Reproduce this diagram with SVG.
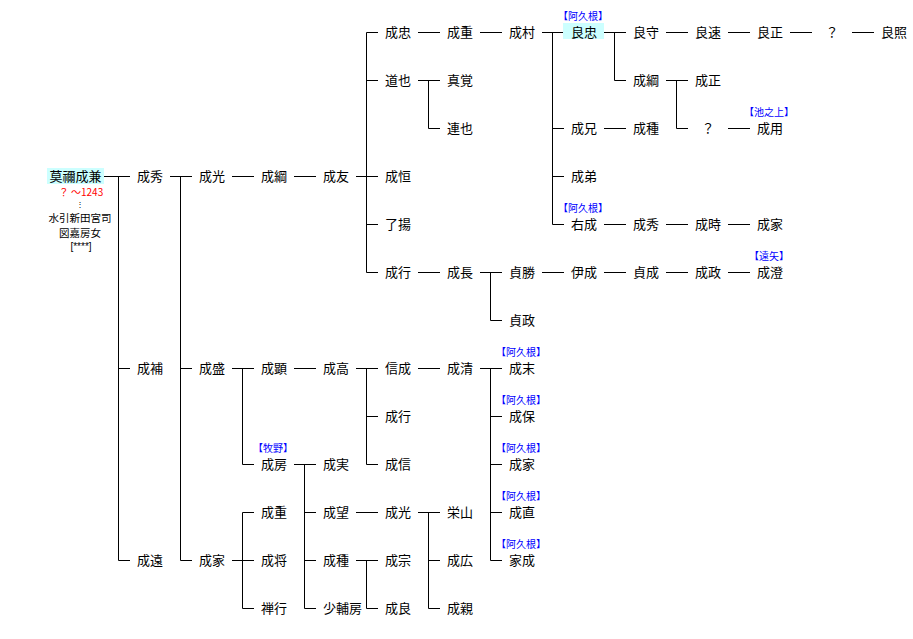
<svg xmlns="http://www.w3.org/2000/svg" width="913" height="639" viewBox="0 0 913 639">
<style>
text{font-family:"Noto Sans CJK JP","Noto Sans CJK SC",sans-serif;}
.t{font-size:13px;fill:#000;text-anchor:middle}
.a{font-size:10px;fill:#0000ff;text-anchor:middle}
.s{font-size:10.5px;fill:#000;text-anchor:middle}
.r{font-size:10px;fill:#ff0000;text-anchor:middle}
.hl{fill:#ccffff}
.ln{stroke:#000;stroke-width:1;fill:none}
</style>
<rect width="913" height="639" fill="#fff"/>
<g id="connectors" class="ln">
<path d="M104 176.5H130M118.5 176.5V560.5M118.5 368.5H130M118.5 560.5H130"/>
<path d="M170 176.5H192M180.5 176.5V560.5M180.5 368.5H192M180.5 560.5H192"/>
<path d="M232 176.5H254M294 176.5H316"/>
<path d="M356 176.5H378M366.5 32.5V272.5M366.5 32.5H378M366.5 80.5H378M366.5 224.5H378M366.5 272.5H378"/>
<path d="M418 32.5H440M480 32.5H502"/>
<path d="M542 32.5H564M552.5 32.5V224.5M552.5 128.5H564M552.5 176.5H564M552.5 224.5H564"/>
<path d="M604 32.5H626M614.5 32.5V80.5M614.5 80.5H626"/>
<path d="M666 32.5H688M728 32.5H750M790 32.5H812M852 32.5H874"/>
<path d="M666 80.5H688M676.5 80.5V128.5M676.5 128.5H688M728 128.5H750"/>
<path d="M604 128.5H626"/>
<path d="M604 224.5H626M666 224.5H688M728 224.5H750"/>
<path d="M418 80.5H440M428.5 80.5V128.5M428.5 128.5H440"/>
<path d="M418 272.5H440M480 272.5H502M490.5 272.5V320.5M490.5 320.5H502"/>
<path d="M542 272.5H564M604 272.5H626M666 272.5H688M728 272.5H750"/>
<path d="M232 368.5H254M242.5 368.5V464.5M242.5 464.5H254M294 368.5H316"/>
<path d="M356 368.5H378M366.5 368.5V464.5M366.5 416.5H378M366.5 464.5H378M418 368.5H440"/>
<path d="M480 368.5H502M490.5 368.5V560.5M490.5 416.5H502M490.5 464.5H502M490.5 512.5H502M490.5 560.5H502"/>
<path d="M294 464.5H316M304.5 464.5V608.5M304.5 512.5H316M304.5 560.5H316M304.5 608.5H316"/>
<path d="M356 512.5H378M418 512.5H440M428.5 512.5V608.5M428.5 560.5H440M428.5 608.5H440"/>
<path d="M356 560.5H378M366.5 560.5V608.5M366.5 608.5H378"/>
<path d="M232 560.5H254M242.5 512.5V608.5M242.5 512.5H254M242.5 608.5H254"/>
</g>
<g id="n-root">
<rect class="hl" x="47" y="168" width="57" height="16"/>
<text class="t" x="75.5" y="181">莫禰成兼</text>
<text class="r" x="81" y="195.5">？ ～1243</text>
<text class="s" x="80" y="207" style="font-size:8px">⋮</text>
<text class="s" x="80" y="222">水引新田宮司</text>
<text class="s" x="80" y="236.5">図嘉房女</text>
<text class="s" x="81" y="249.5" style="font-family:'Liberation Sans',sans-serif;font-size:10px">[****]</text>
</g>
<g id="n-c1-seishu"><text class="t" x="150" y="181">成秀</text></g>
<g id="n-c1-seiho"><text class="t" x="150" y="373">成補</text></g>
<g id="n-c1-seien"><text class="t" x="150" y="565">成遠</text></g>
<g id="n-c2-seiko"><text class="t" x="212" y="181">成光</text></g>
<g id="n-c2-seisei"><text class="t" x="212" y="373">成盛</text></g>
<g id="n-c2-seika"><text class="t" x="212" y="565">成家</text></g>
<g id="n-c3-seiko2"><text class="t" x="274" y="181">成綱</text></g>
<g id="n-c3-seiken"><text class="t" x="274" y="373">成顕</text></g>
<g id="n-c3-seibo"><text class="a" x="273" y="452">【牧野】</text><text class="t" x="274" y="469">成房</text></g>
<g id="n-c3-seiju"><text class="t" x="274" y="517">成重</text></g>
<g id="n-c3-seisho"><text class="t" x="274" y="565">成将</text></g>
<g id="n-c3-zengyo"><text class="t" x="274" y="613">禅行</text></g>
<g id="n-c4-seiyu"><text class="t" x="336" y="181">成友</text></g>
<g id="n-c4-seiko3"><text class="t" x="336" y="373">成高</text></g>
<g id="n-c4-seijitsu"><text class="t" x="336" y="469">成実</text></g>
<g id="n-c4-seibo2"><text class="t" x="336" y="517">成望</text></g>
<g id="n-c4-seishu2"><text class="t" x="336" y="565">成種</text></g>
<g id="n-c4-shoho"><text class="t" x="323" y="613" style="text-anchor:start">少輔房</text></g>
<g id="n-c5-seichu"><text class="t" x="398" y="37">成忠</text></g>
<g id="n-c5-michiya"><text class="t" x="398" y="85">道也</text></g>
<g id="n-c5-seiko4"><text class="t" x="398" y="181">成恒</text></g>
<g id="n-c5-ryoyo"><text class="t" x="398" y="229">了揚</text></g>
<g id="n-c5-seigyo"><text class="t" x="398" y="277">成行</text></g>
<g id="n-c5-shinsei"><text class="t" x="398" y="373">信成</text></g>
<g id="n-c5-seigyo2"><text class="t" x="398" y="421">成行</text></g>
<g id="n-c5-seishin"><text class="t" x="398" y="469">成信</text></g>
<g id="n-c5-seiko5"><text class="t" x="398" y="517">成光</text></g>
<g id="n-c5-seiso"><text class="t" x="398" y="565">成宗</text></g>
<g id="n-c5-seiryo"><text class="t" x="398" y="613">成良</text></g>
<g id="n-c6-seiju2"><text class="t" x="460" y="37">成重</text></g>
<g id="n-c6-shinkaku"><text class="t" x="460" y="85">真覚</text></g>
<g id="n-c6-renya"><text class="t" x="460" y="133">連也</text></g>
<g id="n-c6-seicho"><text class="t" x="460" y="277">成長</text></g>
<g id="n-c6-seisei2"><text class="t" x="460" y="373">成清</text></g>
<g id="n-c6-eizan"><text class="t" x="460" y="517">栄山</text></g>
<g id="n-c6-seiko6"><text class="t" x="460" y="565">成広</text></g>
<g id="n-c6-seishin2"><text class="t" x="460" y="613">成親</text></g>
<g id="n-c7-seison"><text class="t" x="522" y="37">成村</text></g>
<g id="n-c7-teisho"><text class="t" x="522" y="277">貞勝</text></g>
<g id="n-c7-teisei"><text class="t" x="522" y="325">貞政</text></g>
<g id="n-c7-seimatsu"><text class="a" x="521" y="356">【阿久根】</text><text class="t" x="522" y="373">成末</text></g>
<g id="n-c7-seiho2"><text class="a" x="521" y="404">【阿久根】</text><text class="t" x="522" y="421">成保</text></g>
<g id="n-c7-seika2"><text class="a" x="521" y="452">【阿久根】</text><text class="t" x="522" y="469">成家</text></g>
<g id="n-c7-seichoku"><text class="a" x="521" y="500">【阿久根】</text><text class="t" x="522" y="517">成直</text></g>
<g id="n-c7-kasei"><text class="a" x="521" y="548">【阿久根】</text><text class="t" x="522" y="565">家成</text></g>
<g id="n-c8-ryochu"><text class="a" x="583" y="20">【阿久根】</text><rect class="hl" x="563" y="23" width="41" height="16"/><text class="t" x="584" y="37">良忠</text></g>
<g id="n-c8-seikei"><text class="t" x="584" y="133">成兄</text></g>
<g id="n-c8-seitei"><text class="t" x="584" y="181">成弟</text></g>
<g id="n-c8-usei"><text class="a" x="583" y="212">【阿久根】</text><text class="t" x="584" y="229">右成</text></g>
<g id="n-c8-isei"><text class="t" x="584" y="277">伊成</text></g>
<g id="n-c9-ryoshu"><text class="t" x="646" y="37">良守</text></g>
<g id="n-c9-seiko7"><text class="t" x="646" y="85">成綱</text></g>
<g id="n-c9-seishu3"><text class="t" x="646" y="133">成種</text></g>
<g id="n-c9-seishu4"><text class="t" x="646" y="229">成秀</text></g>
<g id="n-c9-teisei2"><text class="t" x="646" y="277">貞成</text></g>
<g id="n-c10-ryosoku"><text class="t" x="708" y="37">良速</text></g>
<g id="n-c10-seisei3"><text class="t" x="708" y="85">成正</text></g>
<g id="n-c10-q"><text class="t" x="708" y="133">？</text></g>
<g id="n-c10-seiji"><text class="t" x="708" y="229">成時</text></g>
<g id="n-c10-seisei4"><text class="t" x="708" y="277">成政</text></g>
<g id="n-c11-ryosei"><text class="t" x="770" y="37">良正</text></g>
<g id="n-c11-seiyo"><text class="a" x="769" y="116">【池之上】</text><text class="t" x="770" y="133">成用</text></g>
<g id="n-c11-seika3"><text class="t" x="770" y="229">成家</text></g>
<g id="n-c11-seicho2"><text class="a" x="769" y="260">【遠矢】</text><text class="t" x="770" y="277">成澄</text></g>
<g id="n-c12-q"><text class="t" x="832" y="37">？</text></g>
<g id="n-c13-ryosho"><text class="t" x="894" y="37">良照</text></g>
</svg>
